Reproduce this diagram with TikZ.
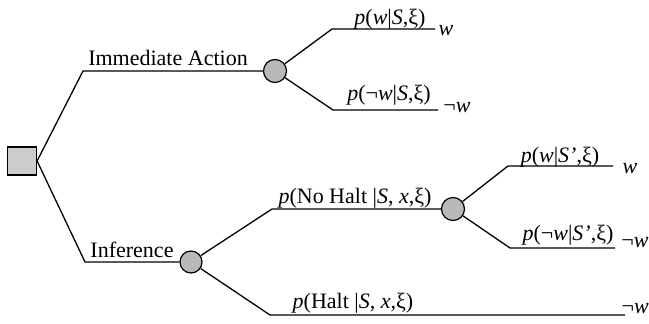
\documentclass[tikz,border=0pt]{standalone}
\usepackage{fontspec}
\setmainfont{Liberation Serif}
\begin{document}
\begin{tikzpicture}[x=1pt,y=-1pt,
  branch/.style={line width=1.3pt, line join=round},
  chance/.style={circle, draw, line width=1.2pt, fill=gray!55, minimum size=23pt, inner sep=0pt},
  decision/.style={rectangle, draw, line width=1.2pt, fill=gray!40, minimum width=29pt, minimum height=28pt, inner sep=0pt},
  lbl/.style={anchor=base, inner sep=0pt, font=\fontsize{22}{26}\selectfont}]
\useasboundingbox (0,0) rectangle (649,324);
% decision and chance nodes
\node[decision] (sq) at (22,161) {};
\node[chance] (c1) at (275,71) {};
\node[chance, minimum size=22pt] (c2) at (191,262) {};
\node[chance] (c3) at (453,209) {};
% corner points
\coordinate (a1) at (83,71);
\coordinate (a2) at (85,262);
\coordinate (b1) at (332,29);  \coordinate (b1e) at (435,29);
\coordinate (b2) at (333,110); \coordinate (b2e) at (438,110);
\coordinate (d1) at (272,209);
\coordinate (d2) at (270,315); \coordinate (d2e) at (625,315);
\coordinate (e1) at (508,166); \coordinate (e1e) at (613,166);
\coordinate (e2) at (510,248); \coordinate (e2e) at (615,248);
% connectors
\draw[branch] (sq.east) -- (a1) -- (c1.west);
\draw[branch] (sq.east) -- (a2) -- (c2.west);
\draw[branch] (c1) -- (b1) -- (b1e);
\draw[branch] (c1) -- (b2) -- (b2e);
\draw[branch] (c2) -- (d1) -- (c3.west);
\draw[branch] (c2) -- (d2) -- (d2e);
\draw[branch] (c3) -- (e1) -- (e1e);
\draw[branch] (c3) -- (e2) -- (e2e);
% labels
\node[lbl] (tIA) at (168,65) {Immediate Action};
\node[lbl] (tInf) at (132,257) {Inference};
\node[lbl] (t1) at (390,24) {\textit{p}(\textit{w}|\textit{S},ξ)};
\node[lbl] (t2) at (389,100) {\textit{p}(¬\textit{w}|\textit{S},ξ)};
\node[lbl] (w1) at (446,35) {\textit{w}};
\node[lbl] (nw1) at (457,112) {¬\textit{w}};
\node[lbl] (t3) at (355,203) {\textit{p}(No Halt |\textit{S}, \textit{x},ξ)};
\node[lbl] (t4) at (353,308) {\textit{p}(Halt |\textit{S}, \textit{x},ξ)};
\node[lbl] (t5) at (560,162) {\textit{p}(\textit{w}|\textit{S’},ξ)};
\node[lbl] (t6) at (568,240) {\textit{p}(¬\textit{w}|\textit{S’},ξ)};
\node[lbl] (w2) at (630,173) {\textit{w}};
\node[lbl] (nw2) at (635,247) {¬\textit{w}};
\node[lbl, anchor=base east] (nw3) at (649,313) {¬\textit{w}};
\end{tikzpicture}
\end{document}
